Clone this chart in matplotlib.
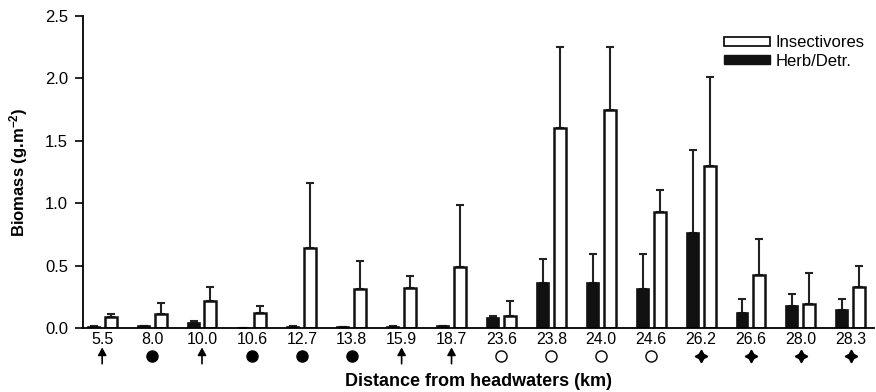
import matplotlib.pyplot as plt
import matplotlib.transforms as mtransforms
from matplotlib.patches import Patch
import numpy as np

plt.rcParams['font.family'] = ['Liberation Sans', 'DejaVu Sans']
plt.rcParams['mathtext.default'] = 'regular'

# distance from headwaters (km)
sites = ["5.5", "8.0", "10.0", "10.6", "12.7", "13.8", "15.9", "18.7",
         "23.6", "23.8", "24.0", "24.6", "26.2", "26.6", "28.0", "28.3"]
# symbol under each site
site_marks = ["arrow", "dot", "arrow", "dot", "dot", "dot", "arrow", "arrow",
              "open", "open", "open", "open", "star", "star", "star", "star"]

insect_mean = [0.088, 0.11, 0.22, 0.12, 0.64, 0.31, 0.32, 0.49,
               0.095, 1.60, 1.75, 0.93, 1.30, 0.425, 0.19, 0.33]
insect_err = [0.022, 0.09, 0.11, 0.06, 0.525, 0.23, 0.10, 0.50,
              0.125, 0.65, 0.50, 0.18, 0.71, 0.285, 0.25, 0.17]

herb_mean = [0.01, 0.015, 0.043, 0.003, 0.012, 0.008, 0.012, 0.02,
             0.078, 0.36, 0.36, 0.31, 0.76, 0.12, 0.18, 0.145]
herb_err = [0.005, 0.0, 0.017, 0.0, 0.003, 0.0, 0.006, 0.0,
            0.021, 0.19, 0.235, 0.28, 0.67, 0.11, 0.09, 0.085]

fig = plt.figure(figsize=(8.76, 3.92), dpi=100)
ax = fig.add_axes([0.095, 0.163, 0.903, 0.796])

x = np.arange(len(sites))
w = 0.24
off = 0.17

ax.bar(x - off, herb_mean, w, color="#111111", edgecolor="#111111", lw=1.2, zorder=2)
ax.bar(x + off, insect_mean, w, color="white", edgecolor="#111111", lw=1.8, zorder=2)

# only upper error bars
ax.errorbar(x - off, herb_mean, yerr=[np.zeros(len(x)), herb_err], fmt="none",
            ecolor="#222222", elinewidth=1.5, capsize=3, capthick=1.5, zorder=1)
ax.errorbar(x + off, insect_mean, yerr=[np.zeros(len(x)), insect_err], fmt="none",
            ecolor="#222222", elinewidth=1.5, capsize=3, capthick=1.5, zorder=1)

ax.set_xlim(-0.38, 15.47)
ax.set_ylim(0, 2.5)
ax.set_yticks([0, 0.5, 1.0, 1.5, 2.0, 2.5])
ax.set_yticklabels(["0.0", "0.5", "1.0", "1.5", "2.0", "2.5"])
ax.set_xticks(x)
ax.set_xticklabels(sites)
ax.tick_params(axis="x", length=0, pad=3, labelsize=11.5)
ax.tick_params(axis="y", length=6, width=1.2, direction="out", pad=5, labelsize=12)

for s in ["top", "right"]:
    ax.spines[s].set_visible(False)
for s in ["left", "bottom"]:
    ax.spines[s].set_linewidth(1.3)

ax.set_ylabel("Biomass (g.m$^{-2}$)", fontweight="bold", fontsize=12)
ax.yaxis.set_label_coords(-0.067, 0.5)
ax.set_xlabel("Distance from headwaters (km)", fontweight="bold", fontsize=13)
ax.xaxis.set_label_coords(0.5, -0.145)

# symbols under the site labels
trans = mtransforms.blended_transform_factory(ax.transData, ax.transAxes)
ys = -0.088
for xi, m in zip(x, site_marks):
    if m == "arrow":
        ax.annotate("", xy=(xi, ys + 0.035), xytext=(xi, ys - 0.035),
                    xycoords=trans, textcoords=trans,
                    arrowprops=dict(arrowstyle="-|>,head_width=0.25,head_length=0.45",
                                    color="black", lw=1.2))
    elif m == "dot":
        ax.plot(xi, ys, "o", ms=8, color="black", transform=trans, clip_on=False)
    elif m == "open":
        ax.plot(xi, ys, "o", ms=8, mfc="white", mec="black", mew=1.0,
                transform=trans, clip_on=False)
    else:
        ax.plot(xi, ys, marker=(4, 1, 0), ms=9, color="black",
                transform=trans, clip_on=False)

handles = [Patch(facecolor="white", edgecolor="black", lw=1.2, label="Insectivores"),
           Patch(facecolor="#111111", edgecolor="#111111", label="Herb/Detr.")]
ax.legend(handles=handles, loc="upper right", bbox_to_anchor=(1.0, 0.97),
          frameon=False, handlelength=2.8, handleheight=0.45, handletextpad=0.3,
          labelspacing=0.2, fontsize=12, borderaxespad=0.2)

fig.savefig("out.png", dpi=100)
